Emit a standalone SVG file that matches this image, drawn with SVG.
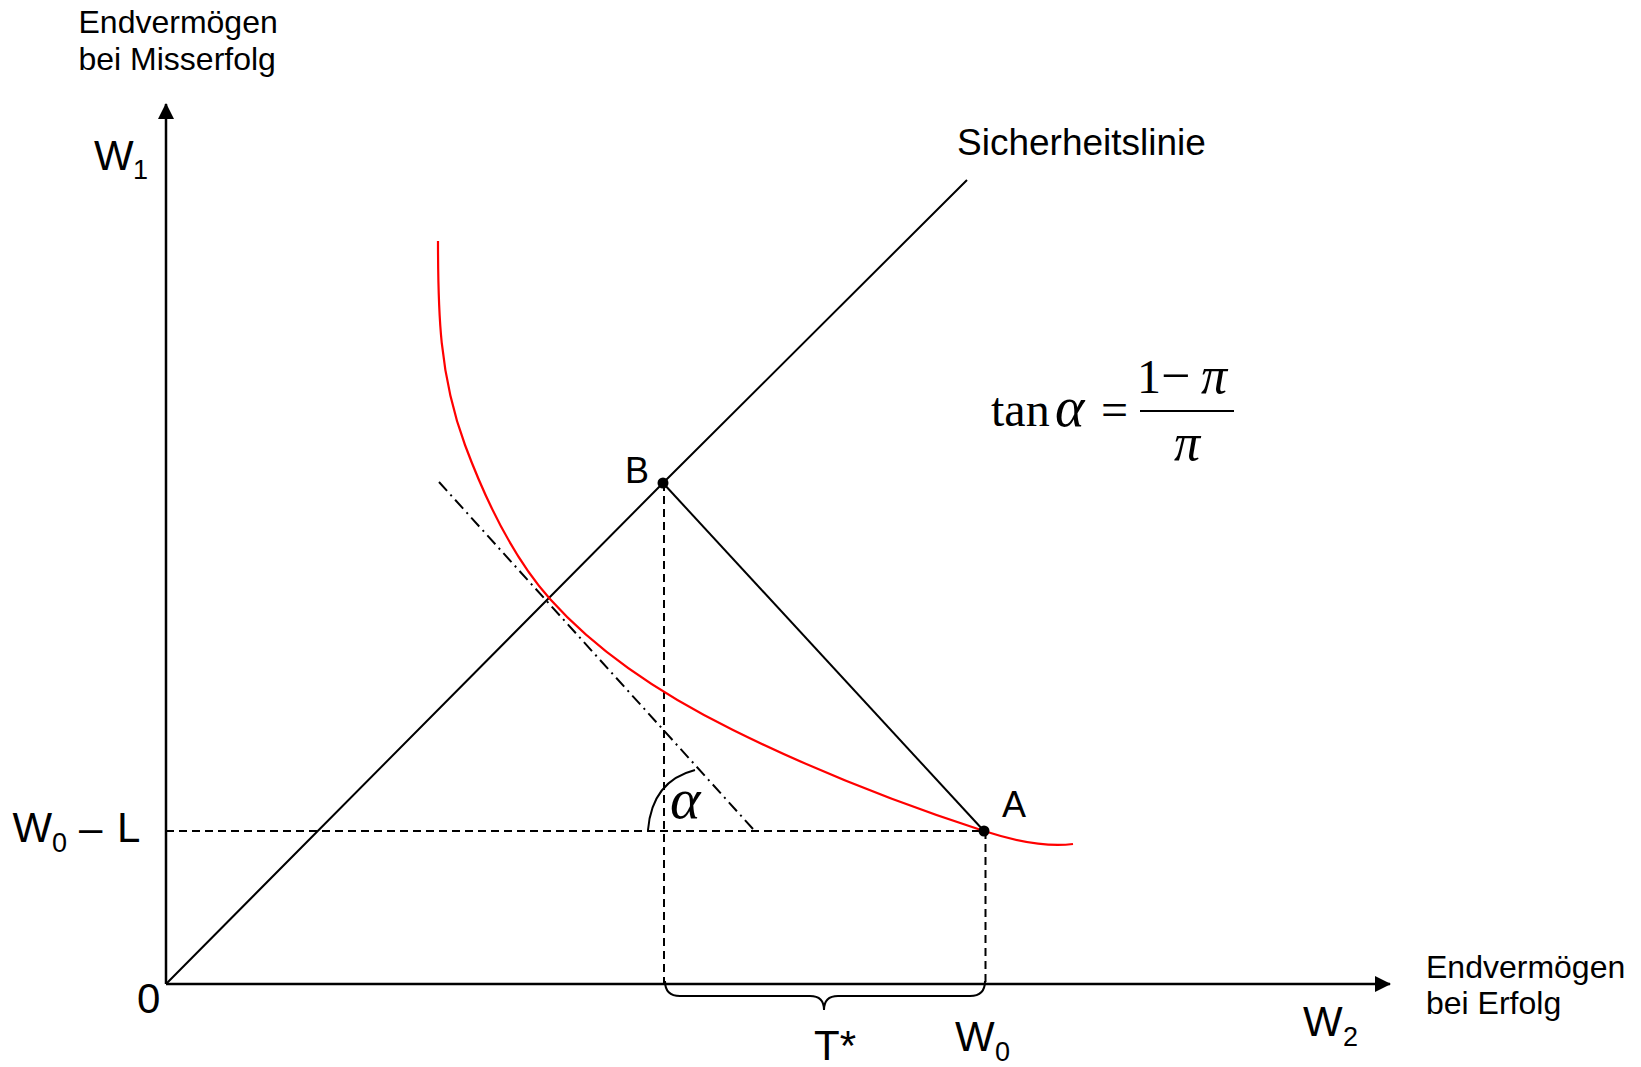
<svg xmlns="http://www.w3.org/2000/svg" width="1641" height="1067" viewBox="0 0 1641 1067">
<defs>
<style>
.ln{stroke:#000;stroke-width:2;fill:none}
.ax{stroke:#000;stroke-width:2.5;fill:none}
.dash{stroke:#000;stroke-width:2;fill:none;stroke-dasharray:8 5}
.dd{stroke:#000;stroke-width:2;fill:none;stroke-dasharray:12 5 2 5}
.red{stroke:#ff0000;stroke-width:2.2;fill:none}
.t{font-family:"Liberation Sans",Arial,sans-serif;fill:#000}
.m{font-family:"Liberation Serif","Times New Roman",serif;fill:#000}
</style>
<marker id="arr" viewBox="0 0 16 16" refX="15" refY="8" markerWidth="16" markerHeight="16" markerUnits="userSpaceOnUse" orient="auto">
<path d="M0,0 L16,8 L0,16 Z" fill="#000"/>
</marker>
</defs>
<rect width="1641" height="1067" fill="#fff"/>
<g id="connectors">
<line id="yaxis" class="ax" x1="166" y1="984" x2="166" y2="104" marker-end="url(#arr)"/>
<line id="xaxis" class="ax" x1="166" y1="984" x2="1390" y2="984" marker-end="url(#arr)"/>
<path id="sicherheitslinie" class="ln" d="M166 984 L663 483 L967 180"/>
<line class="ln" x1="663" y1="483" x2="984" y2="831"/>
<line class="dash" x1="166" y1="831" x2="984" y2="831"/>
<line class="dash" x1="664" y1="483" x2="664" y2="984"/>
<line class="dash" x1="985.5" y1="831" x2="985.5" y2="984"/>
<line class="dd" x1="439" y1="482" x2="753" y2="829"/>
<path class="ln" d="M695 770 Q652 781 648 830"/>
<path class="ln" d="M665 981 Q665 996 680 996 L810 996 Q824 996 824 1010 Q824 996 838 996 L970 996 Q985 996 985 981"/>
<path id="indifference" class="red" d="M438 241 C438 311 439 374.5 465 445 C485.3 499.5 511.4 555.7 550 599 C600 655 665.8 696.8 733 730 C813.6 769.9 898.4 803.3 984 831 C1017.3 841.8 1050 847 1073 844"/>
</g>
<g id="nodeB">
<circle cx="663" cy="483" r="5.5" fill="#000"/>
<text class="t" x="625" y="483" font-size="36">B</text>
</g>
<g id="nodeA">
<circle cx="984" cy="831" r="5.5" fill="#000"/>
<text class="t" x="1002" y="817" font-size="36">A</text>
</g>
<g id="labels">
<text class="t" x="78.5" y="33" font-size="32">Endvermögen</text>
<text class="t" x="78.5" y="70" font-size="32">bei Misserfolg</text>
<text class="t" x="94" y="170" font-size="42">W</text>
<text class="t" x="133" y="179" font-size="27">1</text>
<text class="t" x="957" y="155" font-size="37">Sicherheitslinie</text>
<text class="t" x="12.5" y="842" font-size="42">W</text>
<text class="t" x="52" y="852" font-size="27">0</text>
<text class="t" x="79" y="842" font-size="42">–</text>
<text class="t" x="117" y="842" font-size="42">L</text>
<text class="t" x="137" y="1013" font-size="42">0</text>
<text class="t" x="814" y="1060" font-size="42">T*</text>
<text class="t" x="955" y="1051" font-size="42">W</text>
<text class="t" x="995" y="1061" font-size="27">0</text>
<text class="t" x="1303" y="1036" font-size="42">W</text>
<text class="t" x="1343" y="1046" font-size="27">2</text>
<text class="t" x="1426" y="978" font-size="32">Endvermögen</text>
<text class="t" x="1426" y="1014" font-size="32">bei Erfolg</text>
<text class="m" x="670" y="818" font-size="58" font-style="italic">α</text>
</g>
<g id="formula">
<text class="m" x="991" y="426" font-size="48">tan</text>
<text class="m" x="1055" y="426" font-size="56" font-style="italic">α</text>
<text class="m" x="1101" y="426" font-size="48">=</text>
<line x1="1140" y1="411" x2="1234" y2="411" stroke="#000" stroke-width="2"/>
<text class="m" x="1137" y="393" font-size="48">1</text>
<text class="m" x="1161" y="393" font-size="52">−</text>
<text class="m" x="1201" y="393" font-size="52" font-style="italic">π</text>
<text class="m" x="1174" y="460" font-size="52" font-style="italic">π</text>
</g>
</svg>
